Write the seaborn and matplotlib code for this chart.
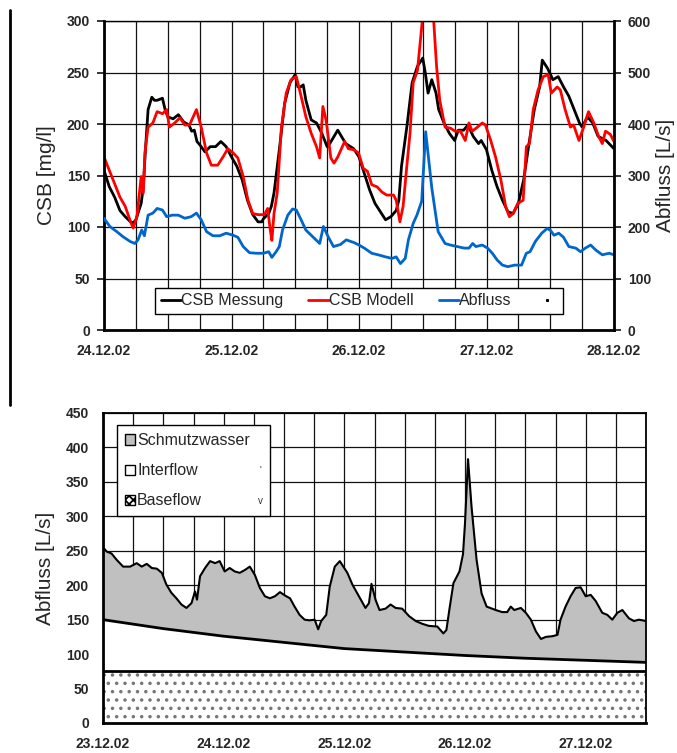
import numpy as np
import seaborn as sns
import matplotlib
matplotlib.use("Agg")
import matplotlib.pyplot as plt
from matplotlib.lines import Line2D
from matplotlib.patches import Patch

# ---- top chart data (hours after 24.12.02 00:00) ----
mess_h = [0, 1, 2, 3, 4, 5, 5.5, 6, 7, 7.4, 7.8, 8.3, 9, 9.5, 10, 11, 11.5, 12, 13, 14,
          15, 16, 16.5, 17, 17.5, 18, 19, 20, 21, 22, 23, 24, 25, 26, 27, 28, 29, 29.7, 30, 31,
          31.5, 32, 33, 34, 35, 36, 36.5, 37, 37.5, 38, 39, 40, 41, 42, 42.5, 44, 45.5, 47, 48, 49,
          50, 51, 52, 53, 54, 55, 55.5, 56, 57, 58, 59, 60, 60.5, 61, 61.7, 62.5, 63, 64, 65, 66,
          66.7, 67.7, 68.5, 69.5, 70.5, 71, 72, 73, 74, 75, 76, 77, 78, 79, 80, 81, 82, 82.5, 83.5, 84.5,
          85.5, 86.5, 87.5, 88.5, 89.5, 90, 91, 92, 93, 94.5, 96]
mess_v = [155, 139, 129, 116, 110, 105, 104, 107, 123, 139, 175, 214, 226, 223, 223, 225, 214, 207, 205, 209,
          202, 199, 193, 194, 183, 180, 173, 178, 178, 183, 178, 168, 159, 146, 126, 112, 105, 105, 108, 113,
          120, 133, 175, 220, 240, 248, 236, 236, 238, 223, 204, 201, 191, 178, 181, 194, 181, 176, 168, 152,
          136, 123, 115, 107, 110, 116, 126, 159, 197, 240, 256, 264, 249, 230, 243, 230, 214, 201, 191, 184,
          194, 194, 199, 188, 181, 184, 175, 155, 139, 126, 115, 113, 123, 146, 181, 214, 236, 262, 254, 243,
          246, 236, 227, 214, 201, 197, 207, 201, 188, 184, 176]

modell_h = [0, 1, 2, 3, 4, 5, 5.5, 6.2, 7, 7.4, 7.7, 8.3, 9.2, 10, 11, 11.8, 12.3, 13.3, 14.3, 15.2,
            16.1, 17.4, 18.3, 19.3, 20.2, 21.4, 22.4, 23.3, 24.3, 25.2, 26.2, 27.1, 28, 29, 30.2, 30.8, 31.3, 31.6, 32, 32.6,
            33.4, 34.3, 35.2, 36.2, 37.1, 38, 39, 40, 40.6, 41.2, 41.8, 42.7, 43.3, 44, 45.3, 46, 47, 47.9, 48.8, 49.6,
            50.4, 51.4, 52.3, 53.2, 54.5, 55, 55.7, 56.3, 57, 57.6, 58.2, 59, 59.5, 60, 61, 62, 62.6, 63.2, 64.2, 65.2,
            66.1, 67.1, 68, 68.7, 69.3, 70.3, 71.2, 71.8, 72.8, 73.7, 74.7, 75.6, 76.3, 77, 77.9, 78.9, 79.5, 80.1, 80.8, 81.7,
            82.7, 83.6, 84.2, 85.3, 85.9, 86.8, 87.8, 88.4, 89.4, 90.3, 91.2, 92.2, 93.1, 93.8, 94.4, 95.3, 96]
modell_v = [168, 155, 142, 129, 120, 105, 99, 110, 149, 133, 172, 197, 201, 212, 210, 214, 197, 201, 206, 199,
            199, 214, 197, 172, 160, 160, 168, 176, 172, 167, 149, 126, 113, 112, 112, 118, 97, 87, 113, 133,
            197, 230, 243, 246, 227, 207, 191, 178, 167, 217, 204, 167, 162, 168, 183, 176, 175, 172, 157, 154,
            141, 139, 134, 131, 131, 126, 105, 120, 159, 191, 240, 252, 278, 305, 340, 305, 256, 223, 197, 196,
            193, 193, 184, 201, 193, 197, 201, 199, 184, 168, 146, 120, 110, 113, 123, 126, 178, 181, 214, 233,
            246, 248, 230, 236, 233, 214, 197, 199, 184, 197, 212, 201, 188, 181, 193, 190, 183]

abfluss_h = [0, 1.1, 2.4, 3.6, 4.9, 5.8, 6.4, 7.1, 7.6, 8.3, 9.2, 10, 11, 11.8, 12.8, 14, 15.2, 16.4, 17.4, 18.3,
             19.3, 20.5, 21.8, 23, 24.3, 25.2, 26.2, 27.4, 28.7, 30, 31, 31.6, 32.4, 33, 33.6, 34.6, 35.5, 36.2, 37.1, 38,
             39.3, 40.6, 41.3, 42.2, 43.2, 44.5, 45.6, 47, 48, 49, 50.4, 51.6, 53, 54.2, 55, 55.8, 56.7, 57.3, 58.2, 58.9,
             59.8, 60.55, 61.7, 62.9, 64.2, 65.2, 66.5, 67.8, 68.7, 69.4, 70, 71.2, 72.2, 73.1, 74, 75, 76, 77.3, 78.6, 79.5,
             80.2, 81.2, 82.4, 83.4, 84, 84.7, 85.6, 86.5, 87.5, 88.8, 89.7, 90.6, 91.6, 92.6, 93.8, 95.1, 96]
abfluss_v = [217, 201, 191, 181, 172, 168, 175, 194, 183, 223, 227, 236, 233, 220, 223, 223, 217, 220, 227, 214,
             191, 183, 183, 188, 184, 180, 162, 150, 149, 149, 152, 141, 152, 162, 194, 223, 235, 233, 214, 194,
             181, 168, 201, 181, 162, 166, 175, 170, 165, 159, 149, 146, 142, 139, 142, 129, 139, 175, 207, 223,
             250, 385, 276, 191, 168, 165, 162, 159, 159, 168, 162, 165, 159, 149, 136, 126, 123, 126, 126, 149,
             152, 172, 188, 197, 194, 184, 188, 180, 162, 159, 152, 159, 165, 155, 146, 149, 146]

top_dates = ["24.12.02", "25.12.02", "26.12.02", "27.12.02", "28.12.02"]
top_labels = ["CSB Messung", "CSB Modell", "Abfluss"]

# ---- bottom chart data (hours after 23.12.02 00:00) ----
total_h = [0, 0.7, 1.7, 2.7, 4, 5.4, 6.7, 7.7, 8.7, 9.7, 10.7, 11.7, 12.6, 13.6, 14.6, 15.6, 16.6, 17.6, 18.3, 18.7,
           19.3, 20.3, 21.3, 22.3, 23.2, 24.2, 25.2, 26.2, 27.2, 28.2, 29.2, 30.2, 31.2, 32.2, 33.2, 34.2, 35.2, 36.2, 37.2, 38.1,
           39.1, 40.1, 41.1, 42.1, 42.8, 43.4, 44.4, 45.1, 46.1, 47.1, 48.6, 49.6, 50.9, 52.2, 52.9, 53.4, 54.2, 55, 56.2, 57.2,
           58.2, 59.5, 60.9, 62.2, 63.5, 64.8, 66.5, 67.7, 68.3, 68.9, 69.7, 70.9, 71.6, 72, 72.6, 73.3, 74.3, 75.3, 76.3, 78.1,
           79.4, 80.4, 81.1, 81.8, 83.1, 84.1, 85.1, 86.1, 87.1, 88.1, 89.4, 90.4, 91, 92, 93, 94, 95, 96, 97, 98,
           99.3, 100.3, 101.3, 102.3, 103.3, 104.6, 105.6, 106.6, 108]
total_v = [255, 249, 246, 237, 227, 227, 232, 227, 231, 225, 224, 218, 201, 189, 181, 172, 167, 174, 191, 179,
           213, 225, 235, 232, 235, 220, 225, 220, 218, 222, 227, 215, 196, 184, 181, 184, 190, 185, 181, 169,
           157, 150, 149, 150, 136, 148, 157, 198, 227, 235, 218, 201, 184, 167, 174, 202, 179, 164, 166, 172,
           167, 166, 155, 148, 144, 141, 140, 130, 135, 165, 203, 220, 245, 290, 383, 314, 237, 188, 169, 164,
           161, 161, 169, 164, 167, 160, 150, 133, 122, 125, 126, 128, 150, 169, 184, 196, 197, 184, 186, 177,
           160, 157, 150, 160, 164, 152, 148, 150, 148]
inter_h = [0, 12, 24, 36, 48, 60, 72, 84, 96, 108]
inter_v = [150, 137, 126, 117, 108, 103, 98, 94, 91, 88]
base_h = [0, 108]
base_v = [76, 76]

bottom_dates = ["23.12.02", "24.12.02", "25.12.02", "26.12.02", "27.12.02"]
bottom_labels = ["Schmutzwasser", "Interflow", "Baseflow"]

sns.set_style("white")
plt.rcParams['font.family'] = ['Liberation Sans', 'DejaVu Sans']
plt.rcParams['hatch.linewidth'] = 1.3
plt.rcParams['hatch.color'] = '#777777'

fig = plt.figure(figsize=(6.77, 7.53), dpi=100)
W, H = 677, 753


def style_ticks(ax):
    for lbl in ax.get_xticklabels() + ax.get_yticklabels():
        lbl.set_fontweight('bold')
        lbl.set_fontsize(10)


# ================= top chart =================
ax1 = fig.add_axes([104 / W, 1 - 330 / H, 510 / W, 309 / H])
ax1r = ax1.twinx()

sns.lineplot(x=mess_h, y=mess_v, ax=ax1, color='black', lw=2, legend=False)
sns.lineplot(x=modell_h, y=modell_v, ax=ax1, color='#ff0000', lw=2, legend=False)
sns.lineplot(x=abfluss_h, y=abfluss_v, ax=ax1r, color='#0066cc', lw=2, legend=False)

ax1.set_xlim(0, 96)
ax1.set_ylim(0, 300)
ax1r.set_ylim(0, 600)
ax1.set_yticks(np.arange(0, 301, 50))
ax1r.set_yticks(np.arange(0, 601, 100))
ax1.set_xticks(np.arange(0, 97, 12))
ax1.set_xticklabels([top_dates[i // 2] if i % 2 == 0 else "" for i in range(9)])
ax1.set_xticks(np.arange(0, 97, 6), minor=True)
ax1.grid(True, which='both', color='#111111', lw=0.9)
ax1.tick_params(axis='x', which='major', direction='out', length=5, width=1.3, pad=5)
ax1.tick_params(axis='x', which='minor', length=0)
ax1.tick_params(axis='y', direction='out', length=5, width=1.3, pad=5)
ax1r.tick_params(axis='y', direction='out', length=5, width=1.3, pad=5)
ax1.set_ylabel("CSB [mg/l]", fontsize=15)
ax1.yaxis.set_label_coords(-0.095, 0.5)
ax1r.set_ylabel("Abfluss [L/s]", fontsize=15)
ax1r.yaxis.set_label_coords(1.083, 0.5)
for s in ['left', 'bottom']:
    ax1.spines[s].set_linewidth(2)
ax1.spines['top'].set_linewidth(1)
ax1.spines['right'].set_visible(False)
for s in ['left', 'bottom', 'top']:
    ax1r.spines[s].set_visible(False)
ax1r.spines['right'].set_linewidth(2)
for sp in list(ax1.spines.values()) + list(ax1r.spines.values()):
    sp.set_color('black')
style_ticks(ax1)
style_ticks(ax1r)

handles = [Line2D([], [], color='black', lw=2),
           Line2D([], [], color='#ff0000', lw=2),
           Line2D([], [], color='#0066cc', lw=2),
           Line2D([], [], ls='none', marker='s', markersize=1.2, color='black')]
leg = ax1r.legend(handles, top_labels + [""], loc='center', ncol=4, mode='expand',
                  bbox_to_anchor=(0.1, 0.042, 0.8, 0.104), fontsize=11.5,
                  handlelength=1.3, handletextpad=0.0, borderpad=0.35, borderaxespad=0,
                  fancybox=False, framealpha=1, edgecolor='black')
leg.get_frame().set_linewidth(1)

# ================= bottom chart =================
ax2 = fig.add_axes([103 / W, 1 - 723 / H, 543 / W, 310 / H])
ax2.set_axisbelow(True)
ax2.fill_between(total_h, 0, total_v, color='#c0c0c0', lw=0, zorder=1)
ax2.fill_between(inter_h, 0, inter_v, color='white', lw=0, zorder=2)
ax2.fill_between(base_h, 0, base_v, facecolor='white', edgecolor='#777777',
                 hatch='..', lw=0, zorder=3)
sns.lineplot(x=total_h, y=total_v, ax=ax2, color='black', lw=1.5, zorder=4, legend=False)
sns.lineplot(x=inter_h, y=inter_v, ax=ax2, color='black', lw=2, zorder=4, legend=False)
sns.lineplot(x=base_h, y=base_v, ax=ax2, color='black', lw=2, zorder=4, legend=False)

ax2.set_xlim(0, 108)
ax2.set_ylim(0, 450)
ax2.set_yticks(np.arange(0, 451, 50))
ax2.set_xticks(np.arange(0, 109, 6))
ax2.set_xticklabels([bottom_dates[i // 4] if i % 4 == 0 else "" for i in range(19)])
ax2.grid(True, color='#111111', lw=0.9)
ax2.tick_params(axis='both', direction='out', length=5, width=1.3, pad=5)
ax2.set_ylabel("Abfluss [L/s]", fontsize=15)
ax2.yaxis.set_label_coords(-0.088, 0.5)
for s in ['left', 'bottom']:
    ax2.spines[s].set_linewidth(2)
for s in ['top', 'right']:
    ax2.spines[s].set_linewidth(1.3)
for sp in ax2.spines.values():
    sp.set_color('black')
    sp.set_zorder(5)
style_ticks(ax2)

bhandles = [Patch(facecolor='#c0c0c0', edgecolor='black', lw=1),
            Patch(facecolor='white', edgecolor='black', lw=1),
            Patch(facecolor='white', edgecolor='black', lw=1, hatch='xxxx')]
leg2 = ax2.legend(bhandles, bottom_labels, loc='upper left', mode='expand',
                  bbox_to_anchor=(0.026, 0.961, 0.282, 0.0), fontsize=11.5,
                  handlelength=0.6, handleheight=0.6, handletextpad=0.15,
                  labelspacing=0.95, borderpad=0.5, borderaxespad=0,
                  fancybox=False, framealpha=1, edgecolor='black')
leg2.get_frame().set_linewidth(1)
leg2.set_zorder(10)

# small stray marks present in the original
fig.text(260 / W, 1 - 471 / H, "'", fontsize=7, color='#333333', ha='center', va='center')
fig.text(260 / W, 1 - 501 / H, "v", fontsize=7, color='#333333', ha='center', va='center')
fig.add_artist(Line2D([10 / W, 10 / W], [1 - 10 / H, 1 - 405 / H],
                      transform=fig.transFigure, color='black', lw=2))

fig.savefig("out.png", dpi=100)
